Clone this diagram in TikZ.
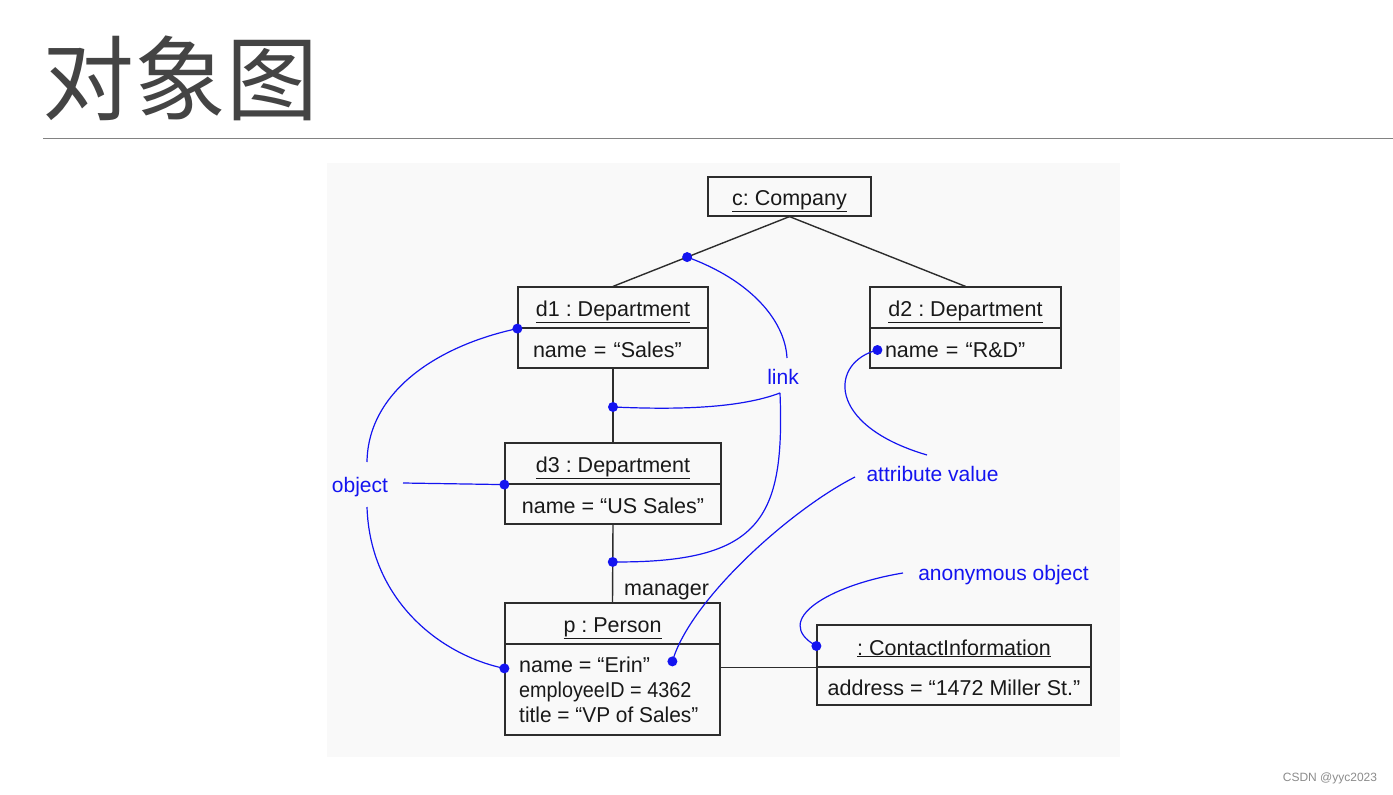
\documentclass[tikz,border=0pt]{standalone}
\usepackage{fontspec}
\setmainfont{Liberation Sans}
\newfontfamily\cjkfont{Noto Sans CJK SC}
\usetikzlibrary{calc}
\definecolor{panel}{RGB}{249,249,249}
\definecolor{boxline}{RGB}{45,45,45}
\definecolor{titlegray}{RGB}{68,68,68}
\definecolor{annblue}{RGB}{20,20,240}
\definecolor{rulegray}{RGB}{130,130,130}
\frenchspacing
\begin{document}
\begin{tikzpicture}[x=1pt,y=-1pt,
  box/.style={draw=boxline, line width=1.2pt, inner sep=0pt, font=\fontsize{21.5}{25}\selectfont, text=black!90, text height=22pt, text depth=4pt},
  txt/.style={anchor=base west, inner sep=0pt, font=\fontsize{21.5}{25}\selectfont, text=black!90},
  lnk/.style={draw=boxline, line width=1.4pt},
  ann/.style={draw=annblue, line width=1.2pt},
  annlabel/.style={text=annblue, font=\fontsize{21}{25}\selectfont, inner sep=0pt},
  dot/.style={fill=annblue, draw=none, circle, minimum size=10pt, inner sep=0pt}
]
\useasboundingbox (0,0) rectangle (1393,795);
\fill[white] (0,0) rectangle (1393,795);
\fill[panel] (327,163) rectangle (1120,757);

% header
\node[font=\cjkfont\fontsize{92}{92}\selectfont, text=titlegray, inner sep=0pt] (title) at (180,78) {对象图};
\draw[rulegray, line width=1pt] (43,138) -- (1393,138);
\node[font=\fontsize{12}{14}\selectfont, text=black!45, inner sep=0pt] (mark) at (1330,778) {CSDN @yyc2023};

% objects
\node[box, minimum width=163pt, minimum height=39pt] (comp) at (789.5,196.5) {\underline{c: Company}};

\node[box, minimum width=190pt, minimum height=41pt] (d1t) at (613,307.5) {\underline{d1 : Department}};
\node[box, minimum height=40pt, text width=160pt, inner xsep=15pt, align=left] (d1a) at (613,348) {name = “Sales”};

\node[box, minimum width=191pt, minimum height=41pt] (d2t) at (965.5,307.5) {\underline{d2 : Department}};
\node[box, minimum height=40pt, text width=161pt, inner xsep=15pt, align=left] (d2a) at (965.5,348) {name = “R\&D”};

\node[box, minimum width=216pt, minimum height=41pt] (d3t) at (613,463.5) {\underline{d3 : Department}};
\node[box, minimum width=216pt, minimum height=40pt] (d3a) at (613,504) {name = “US Sales”};

\node[box, minimum width=215pt, minimum height=41pt] (pt) at (612.5,623.5) {\underline{p : Person}};
\node[box, minimum width=215pt, minimum height=91pt] (pa) at (612.5,689.5) {};
\node[txt] (pa1) at (519,672) {name = “Erin”};
\node[txt] (pa2) at (519,697) {\scalebox{0.92}[1]{employeeID = 4362}};
\node[txt] (pa3) at (519,722) {\scalebox{0.97}[1]{title = “VP of Sales”}};

\node[box, minimum width=274pt, minimum height=42pt] (ct) at (954,646) {\underline{: ContactInformation}};
\node[box, minimum width=274pt, minimum height=38pt] (ca) at (954,686) {address = “1472 Miller St.”};

% links
\draw[lnk] (comp.south) -- coordinate[pos=0.58] (L1) (d1t.north);
\draw[lnk] (comp.south) -- (d2t.north);
\draw[lnk] (d1a.south) -- coordinate[pos=0.52] (L2) (d3t.north);
\draw[lnk] (d3a.south) -- coordinate[pos=0.48] (L3) (pt.north);
\draw[lnk] (pa.east |- ct.south) -- (ct.south west);
\node[txt] (mgr) at (624,595) {manager};

% annotation labels
\node[annlabel] (link) at (783,377) {link};
\node[annlabel] (object) at (360,487) {object};
\node[annlabel] (attr) at (932.5,474) {attribute value};
\node[annlabel] (anon) at (1003.5,575) {anonymous object};

\coordinate (linkTop) at (787,358);
\coordinate (linkBot) at (780,393);
\coordinate (objR) at (403,483);
\coordinate (objT) at (367,462);
\coordinate (objB) at (367,507);
\coordinate (attrT) at (927,455);
\coordinate (attrL) at (855,477);
\coordinate (anonL) at (903,573);
\coordinate (D1) at (d1t.south west);
\coordinate (D3) at (d3t.south west);
\coordinate (DP) at ($(pa.north west)+(0,25)$);
\coordinate (D2) at ($(d2a.west)+(8,2)$);
\coordinate (DE) at ($(pa.north west)+(168,18)$);
\coordinate (DC) at (ct.west);

% annotation curves
\draw[ann] (L1) .. controls (750,280) and (785,320) .. (linkTop);
\draw[ann] (linkBot) .. controls (740,408) and (680,410) .. (L2);
\draw[ann] (linkBot) .. controls (785,520) and (760,563) .. (L3);
\draw[ann] (objR) -- (D3);
\draw[ann] (objT) .. controls (368,390) and (440,345) .. (D1);
\draw[ann] (objB) .. controls (370,600) and (440,655) .. (DP);
\draw[ann] (D2) .. controls (830,362) and (825,425) .. (attrT);
\draw[ann] (attrL) .. controls (790,510) and (690,600) .. (DE);
\draw[ann] (anonL) .. controls (830,585) and (770,620) .. (DC);

% dots
\foreach \c in {L1,L2,L3,D1,D3,DP,D2,DE,DC}
  \node[dot] at (\c) {};
\end{tikzpicture}
\end{document}
